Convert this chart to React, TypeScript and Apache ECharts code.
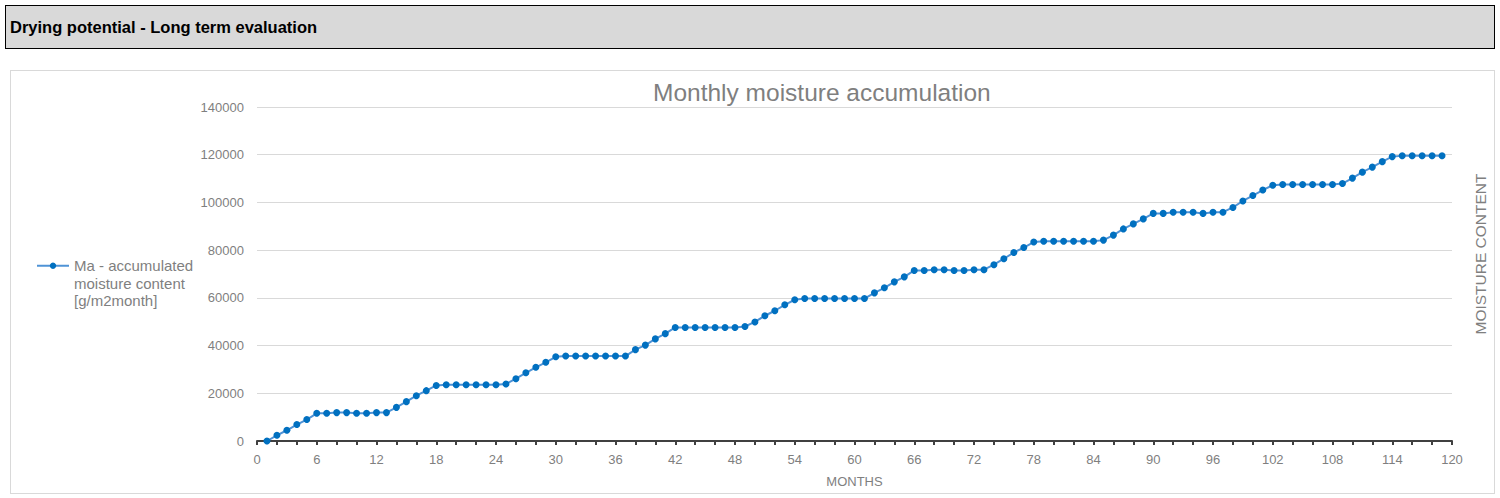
import React, { useEffect, useRef } from "react";
import * as echarts from "echarts";

const headerTitle = "Drying potential - Long term evaluation";
const chartTitle = "Monthly moisture accumulation";
const seriesName = "Ma - accumulated\nmoisture content\n[g/m2month]";
const xAxisName = "MONTHS";
const yAxisName = "MOISTURE CONTENT";

// first month shown
const firstMonth = 1;
// accumulated moisture content, months 1..119
const moisture = [
  0, 2400, 4500, 6900, 9000, 11600, 11600, 11900, 11900, 11600, 11600, 11900,
  11900, 14100, 16500, 19000, 21100, 23300, 23600, 23600, 23600, 23600, 23600, 23600,
  23900, 26100, 28600, 30900, 33000, 35300, 35600, 35600, 35600, 35600, 35600, 35600,
  35600, 38300, 40200, 42800, 45000, 47600, 47600, 47600, 47600, 47600, 47600, 47600,
  48000, 49900, 52500, 54600, 57100, 59200, 59700, 59700, 59700, 59700, 59700, 59700,
  59700, 62100, 64200, 66700, 68800, 71500, 71500, 71800, 71800, 71500, 71500, 71800,
  71800, 73900, 76400, 79000, 81100, 83400, 83700, 83700, 83700, 83700, 83700, 83700,
  84200, 86300, 88900, 91000, 93100, 95400, 95400, 95900, 95900, 95900, 95400, 95900,
  95900, 97900, 100600, 102900, 105200, 107200, 107500, 107500, 107500, 107500, 107500, 107500,
  107900, 110200, 112700, 114800, 117100, 119200, 119600, 119600, 119600, 119600, 119600,
];

const xMin = 0;
const xMax = 120;
const xInterval = 6;
const yMin = 0;
const yMax = 140000;
const yInterval = 20000;

const FONT = "'Liberation Sans', Arial, Helvetica, sans-serif";
const GRAY = "#7f7f7f";

export default function App() {
  const ref = useRef<HTMLDivElement>(null);

  useEffect(() => {
    if (!ref.current) return;
    const chart = echarts.init(ref.current, undefined, { renderer: "svg" });
    const data = moisture.map((v, i) => [firstMonth + i, v]);
    chart.setOption({
      animation: false,
      textStyle: { fontFamily: FONT },
      title: {
        text: chartTitle,
        left: 653,
        top: 80,
        padding: 0,
        textStyle: { fontFamily: FONT, fontSize: 24.5, fontWeight: "normal", color: GRAY },
      },
      legend: {
        orient: "vertical",
        left: 36,
        top: 222,
        padding: 0,
        itemWidth: 32,
        itemHeight: 8,
        data: [seriesName],
        formatter: (name: string) => "\n\n" + name,
        textStyle: {
          fontFamily: FONT,
          fontSize: 15,
          color: GRAY,
          lineHeight: 17.5,
        },
      },
      grid: { left: 257, right: 48, top: 107, bottom: 57, containLabel: false },
      xAxis: {
        type: "value",
        min: xMin,
        max: xMax,
        interval: xInterval,
        name: xAxisName,
        nameLocation: "middle",
        nameGap: 34,
        nameTextStyle: { fontFamily: FONT, fontSize: 13, color: GRAY },
        axisLine: { show: true, onZero: false, lineStyle: { color: "#404040", width: 2 } },
        axisTick: { show: true, length: 4, lineStyle: { color: "#404040", width: 2 } },
        minorTick: { show: true, splitNumber: 3, length: 4, lineStyle: { color: "#404040", width: 2 } },
        splitLine: { show: false },
        minorSplitLine: { show: false },
        axisLabel: { fontFamily: FONT, fontSize: 13, color: GRAY, margin: 12 },
      },
      yAxis: {
        type: "value",
        min: yMin,
        max: yMax,
        interval: yInterval,
        axisLine: { show: false },
        axisTick: { show: false },
        splitLine: { show: true, lineStyle: { color: "#d9d9d9", width: 1 } },
        axisLabel: {
          fontFamily: FONT,
          fontSize: 13,
          color: GRAY,
          margin: 13,
          formatter: (v: number) => String(v),
        },
      },
      graphic: [
        {
          type: "text",
          x: 1480,
          y: 254,
          rotation: Math.PI / 2,
          style: {
            text: yAxisName,
            fontFamily: FONT,
            fontSize: 15.5,
            fill: GRAY,
            align: "center",
            verticalAlign: "middle",
          },
        },
      ],
      series: [
        {
          name: seriesName,
          type: "line",
          data,
          symbol: "circle",
          symbolSize: 7,
          showSymbol: true,
          itemStyle: { color: "#0070c0", borderWidth: 0 },
          lineStyle: { color: "#4f93d6", width: 2 },
          emphasis: { disabled: true },
        },
      ],
    });
    return () => chart.dispose();
  }, []);

  return (
    <div
      style={{
        position: "fixed",
        left: 0,
        top: 0,
        width: 1500,
        height: 498,
        background: "#ffffff",
        overflow: "hidden",
      }}
    >
      <div
        style={{
          position: "absolute",
          left: 5,
          top: 5,
          width: 1484,
          height: 42,
          background: "#d9d9d9",
          border: "1px solid #000000",
          fontFamily: FONT,
          fontWeight: "bold",
          fontSize: 16.5,
          lineHeight: "42px",
          paddingLeft: 4,
          boxSizing: "content-box",
          color: "#000000",
        }}
      >
        {headerTitle}
      </div>
      <div
        style={{
          position: "absolute",
          left: 10,
          top: 70,
          width: 1483,
          height: 422,
          border: "1px solid #d9d9d9",
        }}
      />
      <div
        ref={ref}
        style={{ position: "absolute", left: 0, top: 0, width: 1500, height: 498 }}
      />
    </div>
  );
}
